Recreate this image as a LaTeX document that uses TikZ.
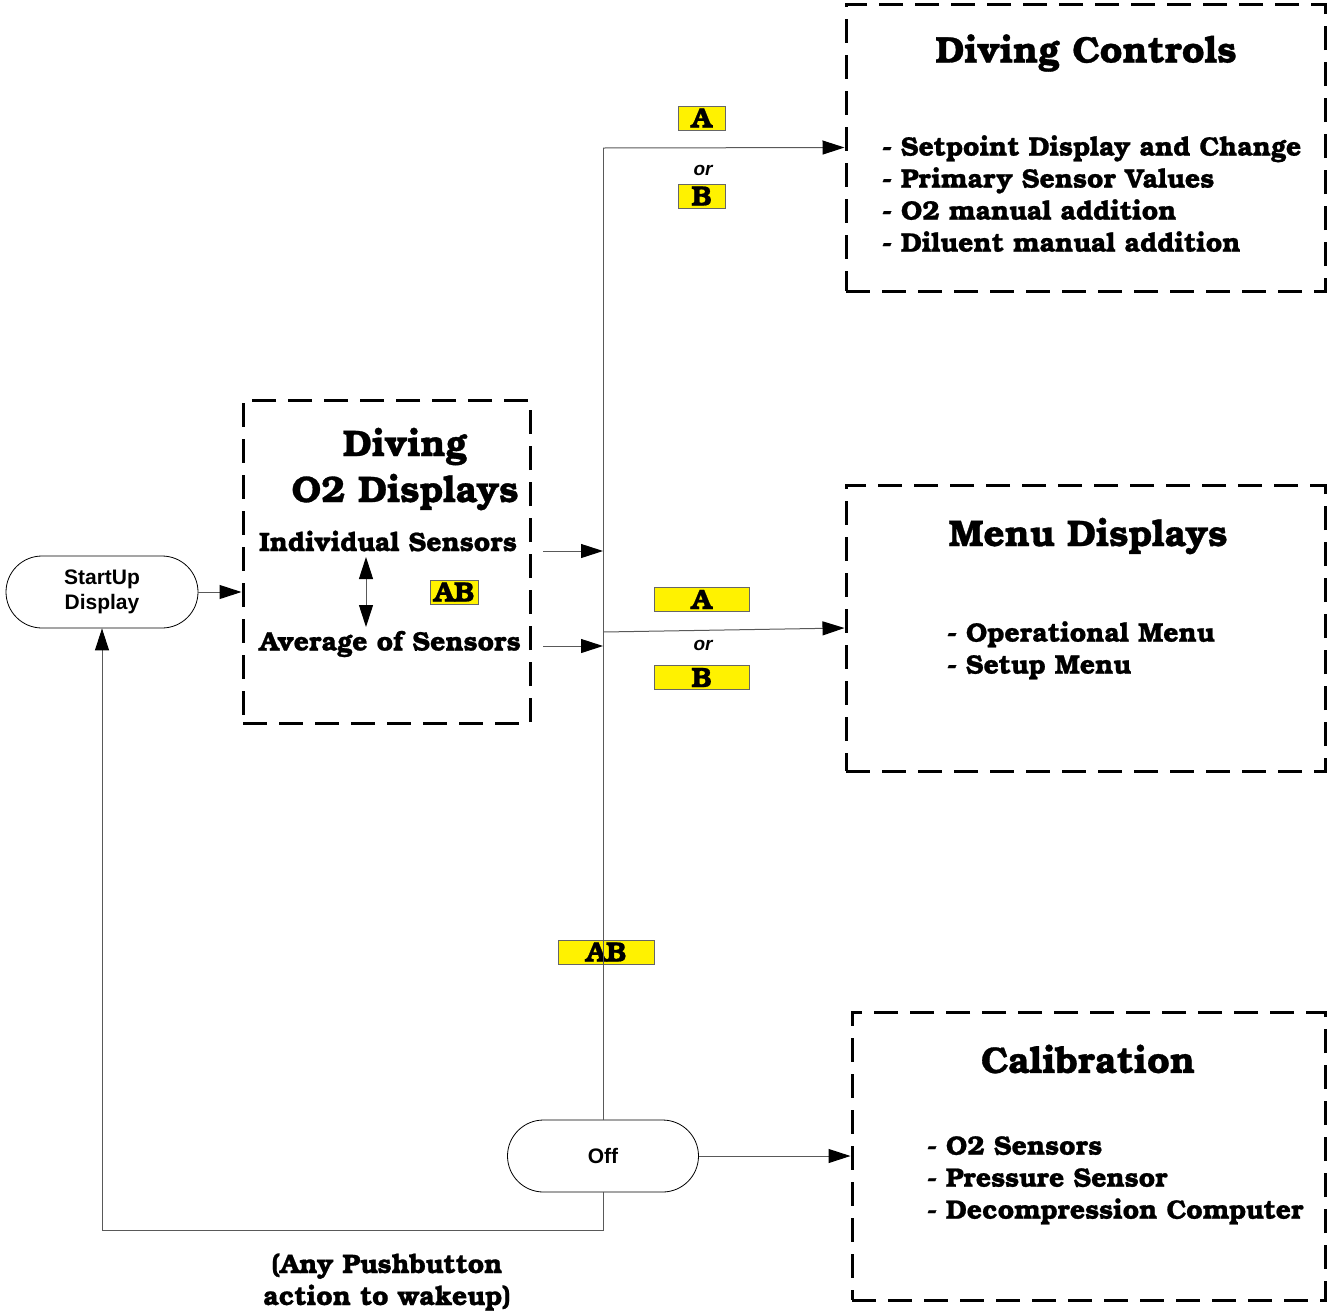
\documentclass[tikz,border=0pt]{standalone}
\usepackage{fontspec}
\setsansfont{Liberation Sans}
\newfontfamily\bonum[FakeBold=0.8]{texgyrebonum-bold.otf}
\usetikzlibrary{arrows.meta}

\begin{document}
\begin{tikzpicture}[
        x=1pt, y=-1pt,
        group/.style={
            rectangle,
            draw,
            line width=3pt,
            dash pattern=on 24pt off 12pt,
        },
        term/.style={
            rectangle,
            draw,
            line width=0.8pt,
            rounded corners=36pt,
            minimum width=192pt,
            minimum height=72pt,
            align=center,
            font=\sffamily\bfseries\fontsize{21}{25}\selectfont,
        },
        tag/.style={
            rectangle,
            draw=black!60,
            fill=yellow,
            inner sep=0pt,
            minimum height=24pt,
            font=\bonum\fontsize{28}{28}\selectfont,
        },
        title/.style={
            font=\bonum\fontsize{37}{46}\selectfont,
            align=center,
        },
        items/.style={
            font=\bonum\fontsize{26.7}{32}\selectfont,
            align=left,
            inner sep=0pt,
            anchor=north west,
        },
        orlabel/.style={
            font=\sffamily\bfseries\itshape\fontsize{19}{19}\selectfont,
        },
        line/.style={
            draw=black!65,
            line width=1pt,
        },
        link/.style={
            line,
            -{Triangle[length=22pt,width=14pt,color=black]},
        },
    ]
    \useasboundingbox (0,0) rectangle (1327,1312);

    % boxes
    \node (ctrl) at (1085.5,147.5) [group, minimum width=479pt, minimum height=287pt] {};
    \node (menu) at (1085.5,628) [group, minimum width=479pt, minimum height=286pt] {};
    \node (calib) at (1088.5,1156) [group, minimum width=473pt, minimum height=288pt] {};
    \node (o2) at (386.5,561.5) [group, minimum width=287pt, minimum height=323pt] {};

    \node (start) at (102,592) [term, text depth=4pt] {StartUp\\Display};
    \node (off) at (603,1156) [term, minimum width=191pt] {Off};

    % box texts
    \node (ctrlT) at (1086,53) [title] {Diving Controls};
    \node (ctrlL) at (882,135) [items] {- Setpoint Display and Change\\
        - Primary Sensor Values\\
        - O2 manual addition\\
        - Diluent manual addition};

    \node (menuT) at (1088,536) [title] {Menu Displays};
    \node (menuL) at (947,621) [items] {- Operational Menu\\
        - Setup Menu};

    \node (calibT) at (1088,1059) [title] {Calibration};
    \node (calibL) at (927,1136) [items] {- O2 Sensors\\
        - Pressure Sensor\\
        - Decompression Computer};

    \node (o2T) at (405,469) [title] {Diving\\O2 Displays};
    \node (indiv) at (388,541) [items, anchor=center] {Individual Sensors};
    \node (avg) at (390,644) [items, anchor=center] {Average of Sensors};

    \node (wake) at (387,1282) [items, anchor=center, align=center] {(Any Pushbutton\\action to wakeup)};

    % tags
    \node (tagA1) at (701.5,118) [tag, minimum width=47pt] {A};
    \node (or1) at (703,170) [orlabel] {or};
    \node (tagB1) at (701.5,196) [tag, minimum width=47pt] {B};
    \node (tagA2) at (701.5,599.5) [tag, minimum width=95pt] {A};
    \node (or2) at (703,645) [orlabel] {or};
    \node (tagB2) at (701.5,677.5) [tag, minimum width=95pt] {B};
    \node (tagAB1) at (454,592) [tag, minimum width=48pt] {AB};
    \node (tagAB2) at (606,952) [tag, minimum width=96pt] {AB};

    % connectors
    \coordinate (top) at (603,148);
    \coordinate (mid) at (603,632);
    \coordinate (low) at (603,1230);
    \coordinate (in1) at (543,551);
    \coordinate (in2) at (543,646);
    \coordinate (sw1) at (366,557);
    \coordinate (sw2) at (366,627);

    \draw [line] (top) -- (off.north);
    \draw [link] (top) -- (ctrl.west);
    \draw [link] (mid) -- (menu.west);
    \draw [link] (off.east) -- (calib.west);
    \draw [link] (in1) -- (in1 -| top);
    \draw [link] (in2) -- (in2 -| top);
    \draw [link] (start.east) -- (start.east -| o2.west);
    \draw [link] (off.south) -- (low) -| (start.south);
    \draw [line, {Triangle[length=22pt,width=14pt,color=black]}-{Triangle[length=22pt,width=14pt,color=black]}] (sw1) -- (sw2);

\end{tikzpicture}
\end{document}
